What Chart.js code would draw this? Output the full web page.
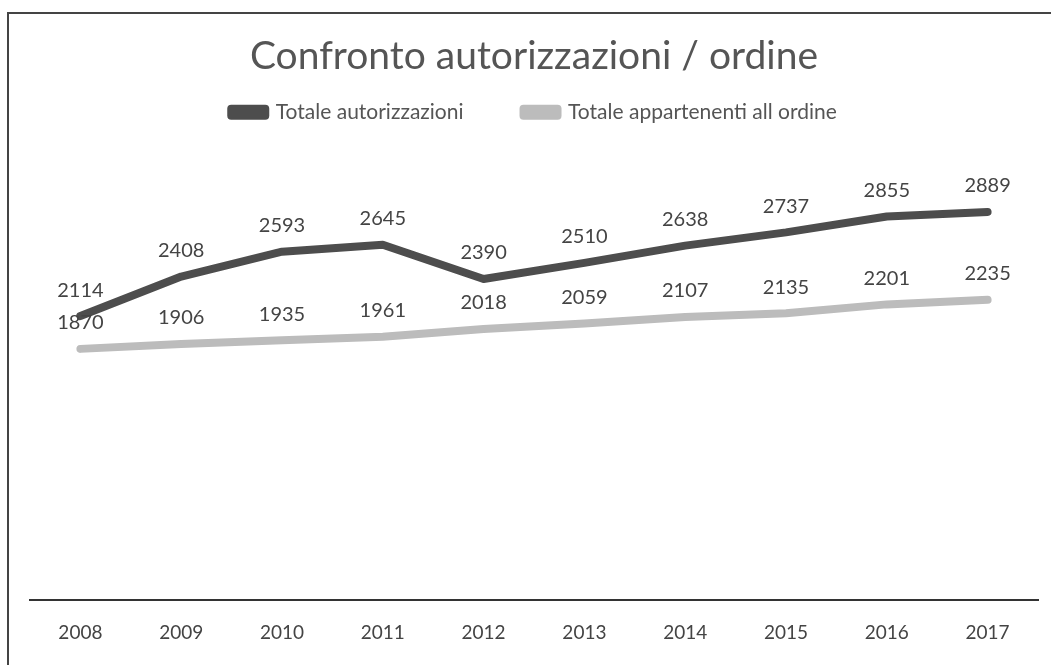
<!DOCTYPE html>
<html>
<head>
<meta charset="utf-8">
<script src="https://cdn.jsdelivr.net/npm/chart.js@4/dist/chart.umd.min.js"></script>
<style>
  body { margin: 0; background: #fff; }
  #wrap { position: relative; width: 1051px; height: 665px; }
  #frame { position: absolute; left: 7px; top: 12px; right: 0; bottom: 0;
           border-top: 2px solid #444; border-left: 2px solid #444; }
  canvas { position: absolute; left: 0; top: 0; }
</style>
</head>
<body>
<div id="wrap">
  <div id="frame"></div>
  <canvas id="myChart" width="1051" height="665"></canvas>
</div>
<script>
const years = ['2008', '2009', '2010', '2011', '2012', '2013', '2014', '2015', '2016', '2017'];
const autorizzazioni = [2114, 2408, 2593, 2645, 2390, 2510, 2638, 2737, 2855, 2889];
const appartenenti = [1870, 1906, 1935, 1961, 2018, 2059, 2107, 2135, 2201, 2235];

// draws the value above each point
const valueLabels = {
  id: 'valueLabels',
  afterDatasetsDraw(chart) {
    const ctx = chart.ctx;
    ctx.save();
    ctx.font = '20px Lato';
    ctx.fillStyle = '#444';
    ctx.textAlign = 'center';
    ctx.textBaseline = 'middle';
    chart.data.datasets.forEach((ds, i) => {
      const meta = chart.getDatasetMeta(i);
      meta.data.forEach((pt, j) => {
        ctx.fillText(ds.data[j], pt.x, pt.y - 26);
      });
    });
    ctx.restore();
  }
};

new Chart(document.getElementById('myChart'), {
  type: 'line',
  data: {
    labels: years,
    datasets: [{
      label: 'Totale autorizzazioni',
      data: autorizzazioni,
      borderColor: '#4d4d4d',
      backgroundColor: '#4d4d4d',
      borderWidth: 8,
      borderCapStyle: 'round',
      borderJoinStyle: 'round',
      pointRadius: 0,
      tension: 0
    }, {
      label: 'Totale appartenenti all ordine',
      data: appartenenti,
      borderColor: '#bcbcbc',
      backgroundColor: '#bcbcbc',
      borderWidth: 8,
      borderCapStyle: 'round',
      borderJoinStyle: 'round',
      pointRadius: 0,
      tension: 0
    }]
  },
  options: {
    responsive: false,
    animation: false,
    layout: { padding: { left: 30, right: 13, top: 27, bottom: 8 } },
    plugins: {
      title: {
        display: true,
        text: 'Confronto autorizzazioni / ordine',
        color: '#555',
        font: { family: 'Lato', size: 39, weight: 'normal' },
        padding: { top: 6, bottom: -38 }
      },
      legend: {
        maxHeight: 88,
        labels: {
          color: '#555',
          font: { family: 'Lato', size: 21 },
          boxWidth: 34,
          boxHeight: 7,
          padding: 60
        }
      },
      tooltip: { enabled: false }
    },
    scales: {
      x: {
        offset: true,
        grid: { display: false, offset: false },
        border: { display: true, color: '#333', width: 2 },
        ticks: { color: '#444', font: { family: 'Lato', size: 19 }, padding: 13 }
      },
      y: {
        display: false,
        min: 0,
        max: 3500
      }
    }
  },
  plugins: [valueLabels]
});
</script>
</body>
</html>
